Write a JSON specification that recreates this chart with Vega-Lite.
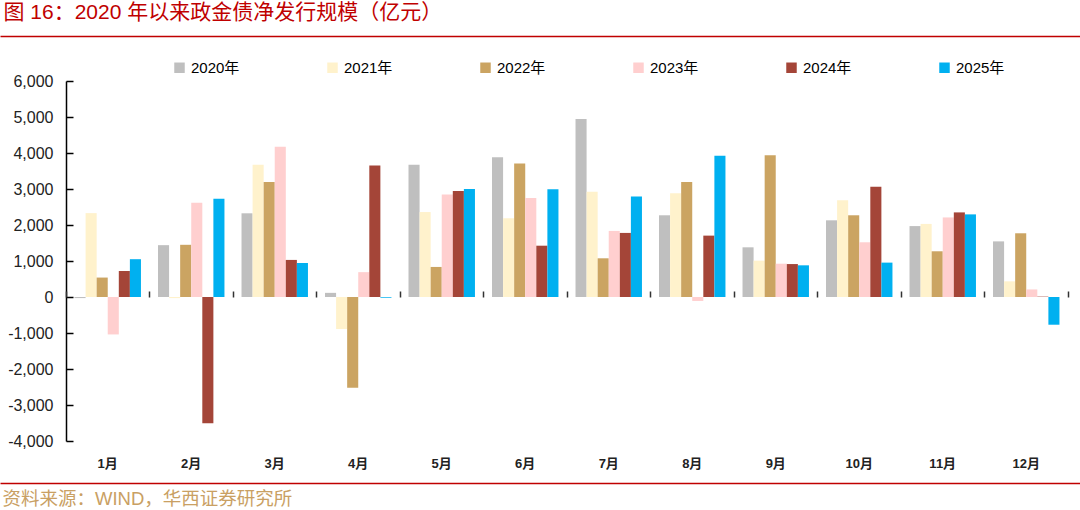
{
  "$schema": "https://vega.github.io/schema/vega-lite/v6.json",
  "width": 1080,
  "height": 360,
  "autosize": {"type": "none"},
  "padding": {"left": 0, "top": 81, "right": 0, "bottom": 69},
  "background": "white",
  "config": {
    "view": {"stroke": null},
    "font": "Liberation Sans, Noto Sans CJK SC",
    "axis": {"grid": false},
    "axisY": {"labelOverlap": false, "tickCount": 11}
  },
  "datasets": {
    "main": [
      {"month": "1月", "year": "2020年", "value": -30},
      {"month": "1月", "year": "2021年", "value": 2330},
      {"month": "1月", "year": "2022年", "value": 540},
      {"month": "1月", "year": "2023年", "value": -1040},
      {"month": "1月", "year": "2024年", "value": 720},
      {"month": "1月", "year": "2025年", "value": 1050},
      {"month": "2月", "year": "2020年", "value": 1440},
      {"month": "2月", "year": "2021年", "value": -30},
      {"month": "2月", "year": "2022年", "value": 1450},
      {"month": "2月", "year": "2023年", "value": 2620},
      {"month": "2月", "year": "2024年", "value": -3510},
      {"month": "2月", "year": "2025年", "value": 2730},
      {"month": "3月", "year": "2020年", "value": 2325},
      {"month": "3月", "year": "2021年", "value": 3675},
      {"month": "3月", "year": "2022年", "value": 3195},
      {"month": "3月", "year": "2023年", "value": 4175},
      {"month": "3月", "year": "2024年", "value": 1030},
      {"month": "3月", "year": "2025年", "value": 945},
      {"month": "4月", "year": "2020年", "value": 115},
      {"month": "4月", "year": "2021年", "value": -890},
      {"month": "4月", "year": "2022年", "value": -2520},
      {"month": "4月", "year": "2023年", "value": 690},
      {"month": "4月", "year": "2024年", "value": 3650},
      {"month": "4月", "year": "2025年", "value": -20},
      {"month": "5月", "year": "2020年", "value": 3675},
      {"month": "5月", "year": "2021年", "value": 2360},
      {"month": "5月", "year": "2022年", "value": 835},
      {"month": "5月", "year": "2023年", "value": 2850},
      {"month": "5月", "year": "2024年", "value": 2945},
      {"month": "5月", "year": "2025年", "value": 3000},
      {"month": "6月", "year": "2020年", "value": 3880},
      {"month": "6月", "year": "2021年", "value": 2185},
      {"month": "6月", "year": "2022年", "value": 3705},
      {"month": "6月", "year": "2023年", "value": 2750},
      {"month": "6月", "year": "2024年", "value": 1425},
      {"month": "6月", "year": "2025年", "value": 2990},
      {"month": "7月", "year": "2020年", "value": 4945},
      {"month": "7月", "year": "2021年", "value": 2925},
      {"month": "7月", "year": "2022年", "value": 1075},
      {"month": "7月", "year": "2023年", "value": 1835},
      {"month": "7月", "year": "2024年", "value": 1780},
      {"month": "7月", "year": "2025年", "value": 2795},
      {"month": "8月", "year": "2020年", "value": 2270},
      {"month": "8月", "year": "2021年", "value": 2880},
      {"month": "8月", "year": "2022年", "value": 3195},
      {"month": "8月", "year": "2023年", "value": -110},
      {"month": "8月", "year": "2024年", "value": 1705},
      {"month": "8月", "year": "2025年", "value": 3925},
      {"month": "9月", "year": "2020年", "value": 1380},
      {"month": "9月", "year": "2021年", "value": 1010},
      {"month": "9月", "year": "2022年", "value": 3935},
      {"month": "9月", "year": "2023年", "value": 925},
      {"month": "9月", "year": "2024年", "value": 915},
      {"month": "9月", "year": "2025年", "value": 880},
      {"month": "10月", "year": "2020年", "value": 2130},
      {"month": "10月", "year": "2021年", "value": 2685},
      {"month": "10月", "year": "2022年", "value": 2270},
      {"month": "10月", "year": "2023年", "value": 1520},
      {"month": "10月", "year": "2024年", "value": 3065},
      {"month": "10月", "year": "2025年", "value": 955},
      {"month": "11月", "year": "2020年", "value": 1970},
      {"month": "11月", "year": "2021年", "value": 2030},
      {"month": "11月", "year": "2022年", "value": 1270},
      {"month": "11月", "year": "2023年", "value": 2210},
      {"month": "11月", "year": "2024年", "value": 2350},
      {"month": "11月", "year": "2025年", "value": 2295},
      {"month": "12月", "year": "2020年", "value": 1545},
      {"month": "12月", "year": "2021年", "value": 435},
      {"month": "12月", "year": "2022年", "value": 1770},
      {"month": "12月", "year": "2023年", "value": 210},
      {"month": "12月", "year": "2024年", "value": 10},
      {"month": "12月", "year": "2025年", "value": -770}
    ]
  },
  "layer": [
    {
      "data": {"name": "main"},
      "mark": {"type": "bar"},
      "encoding": {
        "x": {
          "field": "month",
          "type": "nominal",
          "sort": ["1月", "2月", "3月", "4月", "5月", "6月", "7月", "8月", "9月", "10月", "11月", "12月"],
          "scale": {"paddingInner": 0, "paddingOuter": 0.467, "align": 0.846},
          "axis": {
            "orient": "bottom",
            "domain": false,
            "ticks": false,
            "tickSize": 0,
            "labelPadding": 16,
            "labelAngle": 0,
            "labelFontSize": 13,
            "labelFontWeight": "bold",
            "labelColor": "#222222",
            "title": null
          }
        },
        "xOffset": {
          "field": "year",
          "type": "nominal",
          "sort": ["2020年", "2021年", "2022年", "2023年", "2024年", "2025年"],
          "scale": {"paddingInner": 0, "paddingOuter": 0.77}
        },
        "y": {
          "field": "value",
          "type": "quantitative",
          "title": null,
          "scale": {"domain": [-4000, 6000], "nice": false, "zero": true},
          "axis": {
            "orient": "left",
            "offset": -66,
            "values": [-4000, -3000, -2000, -1000, 0, 1000, 2000, 3000, 4000, 5000, 6000],
            "labelExpr": "replace(format(datum.value, ','), '−', '-')",
            "labelOverlap": false,
            "labelSeparation": 0,
            "domainColor": "#000000",
            "domainWidth": 1.5,
            "tickColor": "#000000",
            "tickWidth": 1.5,
            "tickSize": -7,
            "labelPadding": 20,
            "labelFontSize": 16,
            "labelColor": "#222222",
            "title": null
          }
        },
        "color": {
          "field": "year",
          "type": "nominal",
          "scale": {
            "domain": ["2020年", "2021年", "2022年", "2023年", "2024年", "2025年"],
            "range": ["#BFBFBF", "#FFF2CC", "#CBA462", "#FFCFCF", "#A44538", "#00B0F0"]
          },
          "legend": {
            "orient": "none",
            "legendX": 172,
            "legendY": -21,
            "direction": "horizontal",
            "title": null,
            "symbolType": "square",
            "symbolSize": 110,
            "symbolStrokeWidth": 0,
            "labelFontSize": 15,
            "labelOffset": 4,
            "labelColor": "#000000",
            "columnPadding": 85
          }
        }
      }
    },
    {
      "mark": {"type": "rule", "color": "#333333", "strokeWidth": 1.5},
      "encoding": {
        "x": {
          "datum": "1月",
          "type": "nominal",
          "bandPosition": 0,
          "axis": {
            "orient": "bottom",
            "offset": -144,
            "domain": false,
            "labels": false,
            "ticks": true,
            "tickBand": "extent",
            "tickSize": -6,
            "tickColor": "#333333",
            "tickWidth": 1.5,
            "title": null,
            "zindex": 1
          }
        },
        "x2": {"datum": "12月", "bandPosition": 1},
        "y": {
          "datum": 0,
          "type": "quantitative",
          "title": null,
          "axis": {
            "orient": "left",
            "offset": -66,
            "values": [-4000, -3000, -2000, -1000, 0, 1000, 2000, 3000, 4000, 5000, 6000],
            "labelExpr": "replace(format(datum.value, ','), '−', '-')",
            "labelOverlap": false,
            "labelSeparation": 0,
            "domainColor": "#000000",
            "domainWidth": 1.5,
            "tickColor": "#000000",
            "tickWidth": 1.5,
            "tickSize": -7,
            "labelPadding": 20,
            "labelFontSize": 16,
            "labelColor": "#222222",
            "title": null
          }
        }
      }
    },
    {
      "mark": {"type": "rule", "opacity": 0},
      "encoding": {
        "x": {
          "datum": "1月",
          "type": "nominal",
          "axis": {
            "orient": "top",
            "offset": 45,
            "domain": true,
            "domainColor": "#C00000",
            "domainWidth": 1.5,
            "ticks": false,
            "labels": false,
            "title": "图 16：2020 年以来政金债净发行规模（亿元）",
            "titleFontSize": 21,
            "titleFontWeight": "normal",
            "titleColor": "#C00000",
            "titleAnchor": "start",
            "titleAlign": "left",
            "titleBaseline": "middle",
            "titleX": 3,
            "titleY": -24
          }
        }
      }
    },
    {
      "mark": {"type": "rule", "opacity": 0},
      "encoding": {
        "x": {
          "datum": "1月",
          "type": "nominal",
          "axis": {
            "orient": "bottom",
            "offset": 42,
            "domain": true,
            "domainColor": "#C00000",
            "domainWidth": 1.5,
            "ticks": false,
            "labels": false,
            "title": "资料来源：WIND，华西证券研究所",
            "titleFontSize": 18.5,
            "titleFontWeight": "normal",
            "titleColor": "#C9A063",
            "titleAnchor": "start",
            "titleAlign": "left",
            "titleBaseline": "middle",
            "titleX": 2,
            "titleY": 15
          }
        }
      }
    }
  ],
  "resolve": {"axis": {"x": "independent"}}
}
